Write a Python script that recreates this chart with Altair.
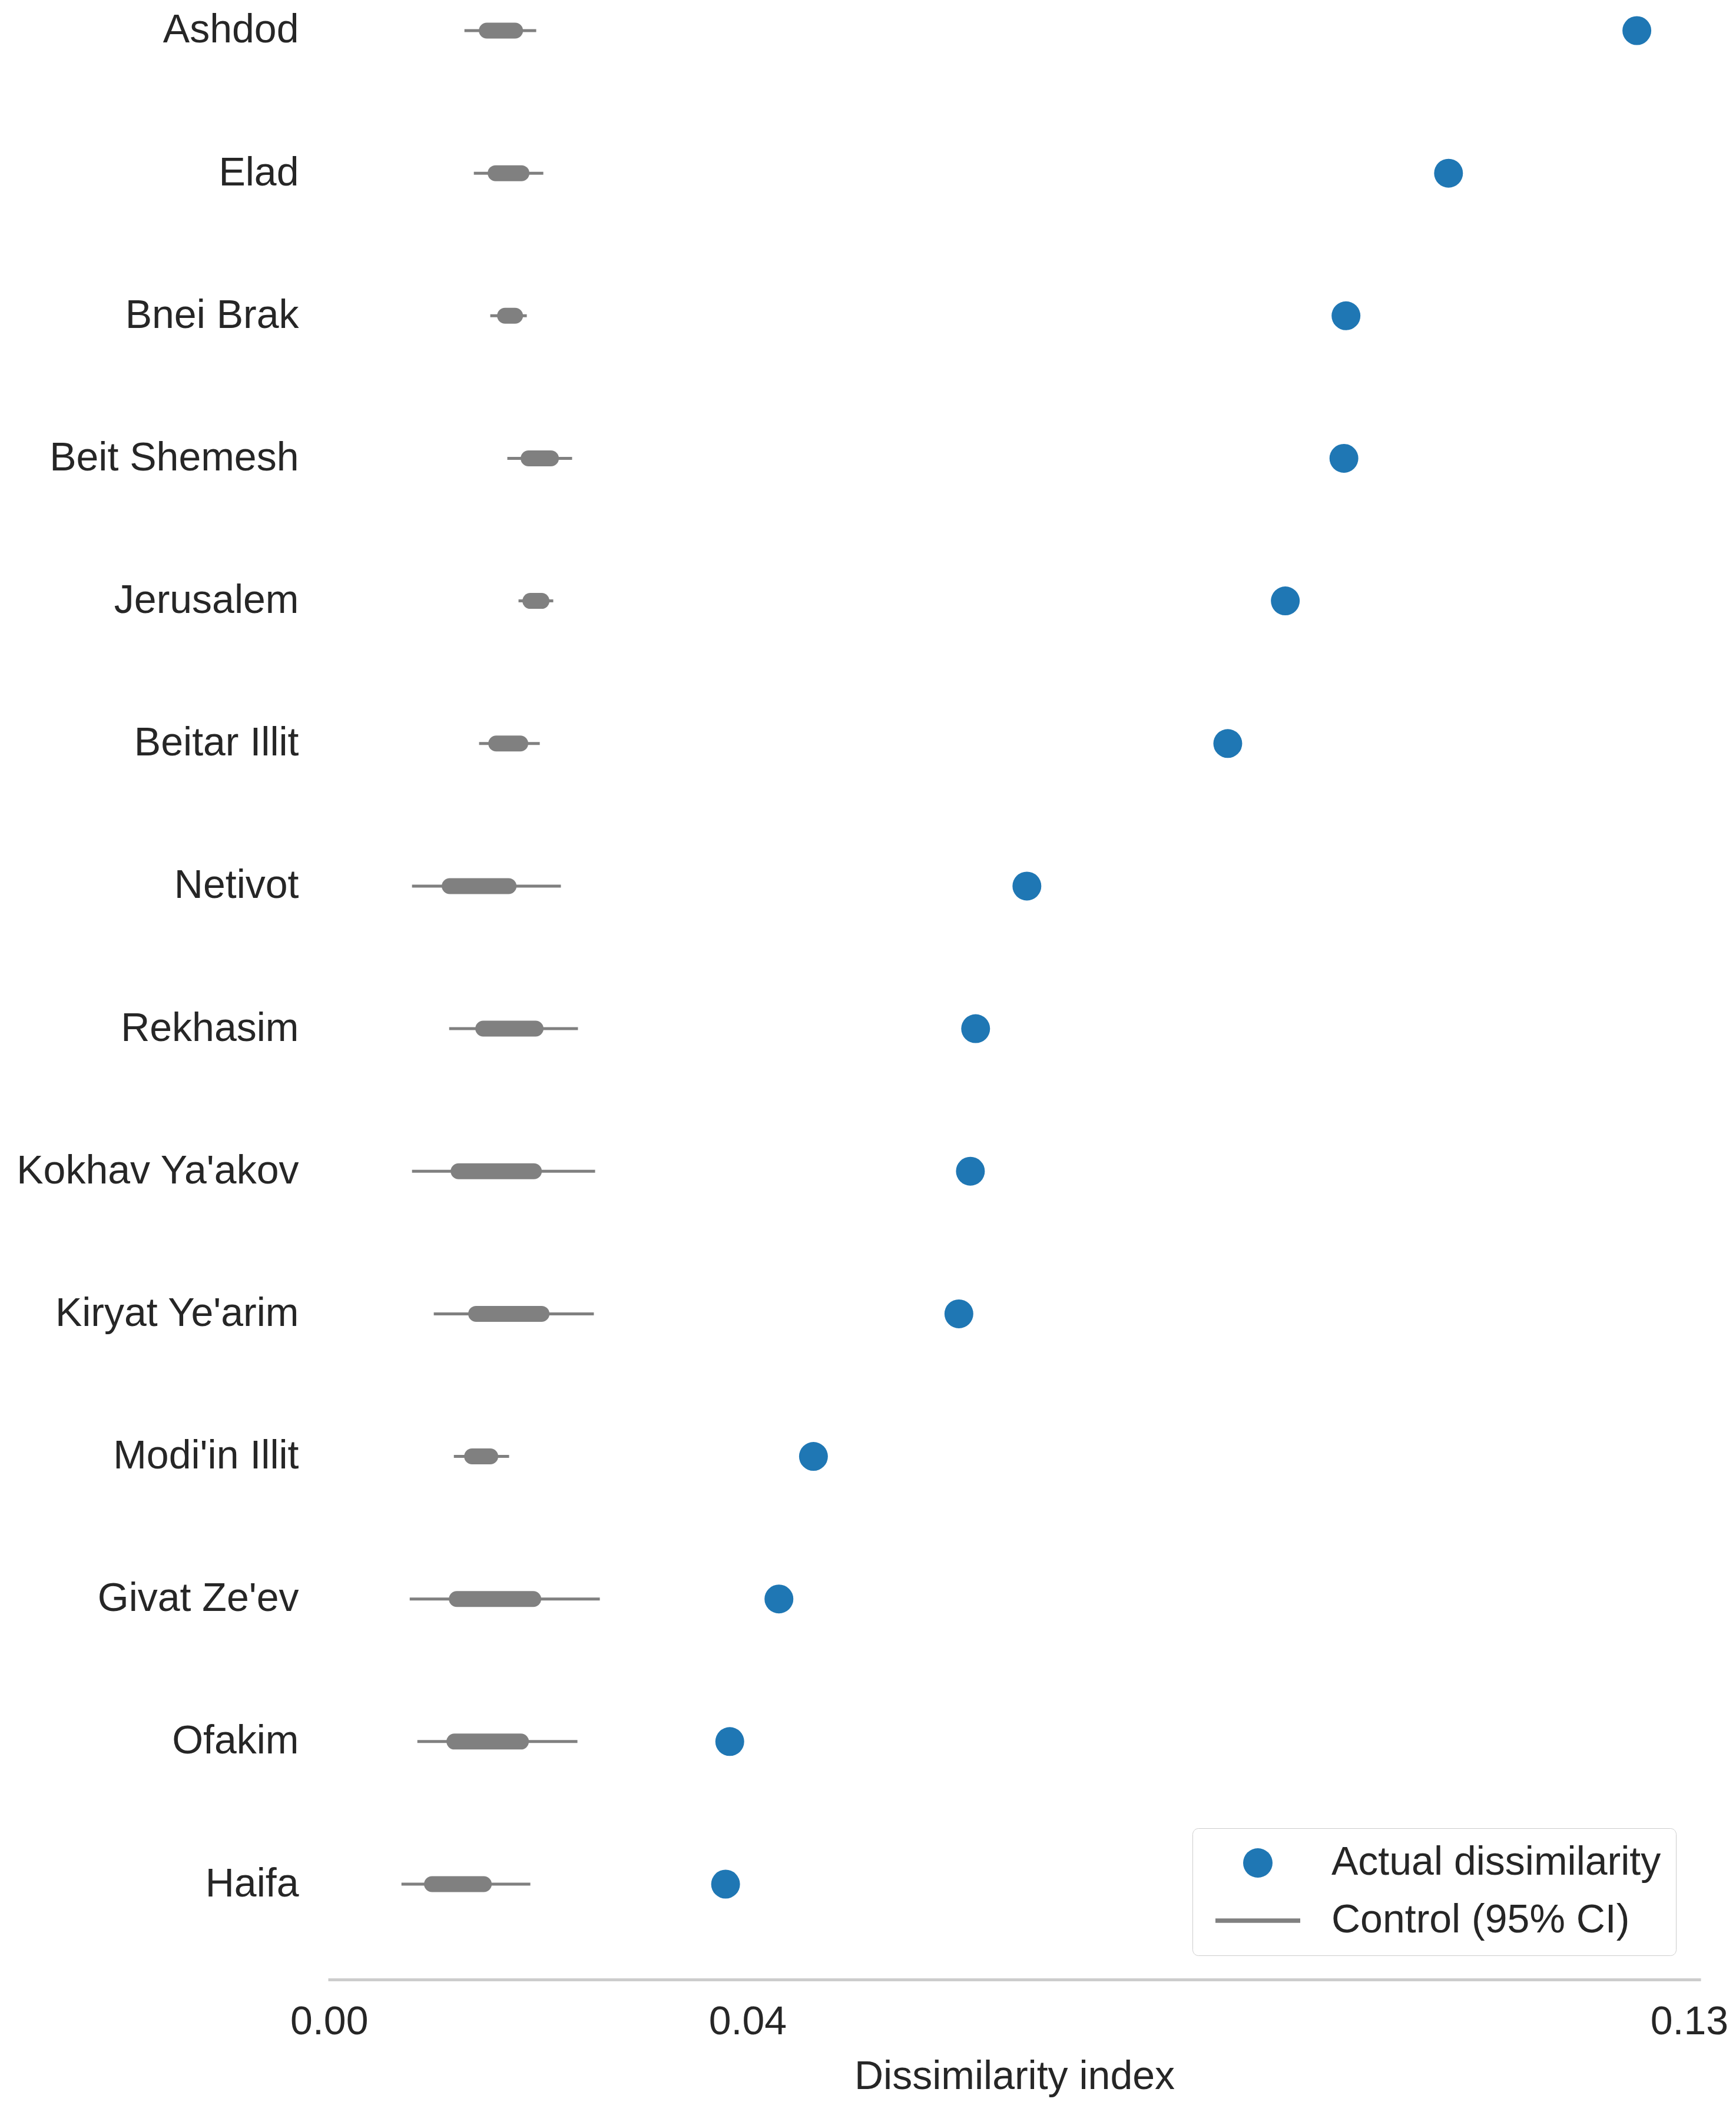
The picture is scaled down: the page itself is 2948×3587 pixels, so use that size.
import altair as alt
import pandas as pd

cities = ["Ashdod", "Elad", "Bnei Brak", "Beit Shemesh", "Jerusalem", "Beitar Illit",
          "Netivot", "Rekhasim", "Kokhav Ya'akov", "Kiryat Ye'arim", "Modi'in Illit",
          "Givat Ze'ev", "Ofakim", "Haifa"]
actual = [0.1250, 0.1070, 0.0972, 0.0970, 0.0914, 0.0859, 0.0667, 0.0618, 0.0613,
          0.0602, 0.0463, 0.0430, 0.0383, 0.0379]
ci_lo = [0.01294, 0.01384, 0.01541, 0.01704, 0.01811, 0.01434, 0.00793, 0.01148,
         0.00793, 0.01001, 0.01193, 0.00771, 0.00844, 0.00692]
ci_hi = [0.01980, 0.02048, 0.01890, 0.02323, 0.02143, 0.02014, 0.02216, 0.02379,
         0.02543, 0.02531, 0.01721, 0.02588, 0.02374, 0.01924]
mid_lo = [0.01508, 0.01592, 0.01682, 0.01907, 0.01924, 0.01598, 0.01153, 0.01474,
          0.01238, 0.01406, 0.01367, 0.01221, 0.01198, 0.00984]
mid_hi = [0.01778, 0.01839, 0.01778, 0.02121, 0.02031, 0.01828, 0.01716, 0.01974,
          0.01958, 0.02031, 0.01541, 0.01952, 0.01834, 0.01479]
series_names = ["Actual dissimilarity", "Control (95% CI)"]
x_ticks = [0.0, 0.04, 0.13]

df = pd.DataFrame({
    "city": cities, "actual": actual, "lo": ci_lo, "hi": ci_hi,
    "mlo": mid_lo, "mhi": mid_hi,
})
df["series"] = series_names[0]

FONT = "Liberation Sans"
TXT = "#262626"
FS = 68
BLUE = "#1f77b4"
GRAY = "#808080"

legend = alt.Legend(
    title=None, orient="none", legendX=1468, legendY=3092,
    labelFontSize=FS, labelColor=TXT, labelFont=FONT, labelLimit=2000,
    symbolSize=2500, symbolStrokeWidth=0, symbolOffset=52, labelOffset=91,
    padding=25, rowPadding=30, cornerRadius=10, strokeColor="#cccccc",
    fillColor="white", symbolOpacity=1,
)
color_scale = alt.Scale(domain=series_names, range=[BLUE, GRAY])
shape_scale = alt.Scale(domain=series_names,
                        range=["circle", "M-2.88,-0.15H2.88V0.15H-2.88Z"])

xscale = alt.Scale(domain=[-0.0001, 0.1311], nice=False, zero=False)
xaxis = alt.Axis(values=x_ticks, format=".2f", title="Dissimilarity index",
                 offset=123, ticks=False, tickSize=0, grid=False,
                 domainColor="#cccccc", domainWidth=5, labelFontSize=FS,
                 labelColor=TXT, labelPadding=38, labelFlush=False,
                 titleFontSize=FS, titleFontWeight="normal", titleColor=TXT,
                 titlePadding=25)
yenc = alt.Y("city:N", sort=cities, scale=alt.Scale(type="point", padding=0.161),
             axis=alt.Axis(title=None, domain=False, ticks=False, tickSize=0,
                           grid=False, labelFontSize=FS, labelColor=TXT,
                           labelPadding=50, labelLimit=1000))

base = alt.Chart(df)

thin = base.mark_rule(strokeWidth=5, color=GRAY).encode(
    y=yenc,
    x=alt.X("lo:Q", scale=xscale, axis=xaxis),
    x2="hi:Q",
)
thick = base.mark_rule(strokeWidth=27, strokeCap="round", color=GRAY).encode(
    y=yenc,
    x=alt.X("mlo:Q", scale=xscale, axis=xaxis),
    x2="mhi:Q",
)
pts = base.mark_point(filled=True, size=2400, opacity=1, strokeWidth=0).encode(
    y=yenc,
    x=alt.X("actual:Q", scale=xscale, axis=xaxis),
    color=alt.Color("series:N", scale=color_scale, legend=legend),
    shape=alt.Shape("series:N", scale=shape_scale, legend=legend),
)

chart = alt.layer(thin, thick, pts).properties(
    width=2331, height=3226,
    padding={"left": 18, "top": 5, "right": 5, "bottom": 5},
).configure(
    font=FONT,
    view=alt.ViewConfig(strokeWidth=0, strokeOpacity=0),
)

chart.save("out.html", embed_options={"renderer": "svg", "actions": False})
